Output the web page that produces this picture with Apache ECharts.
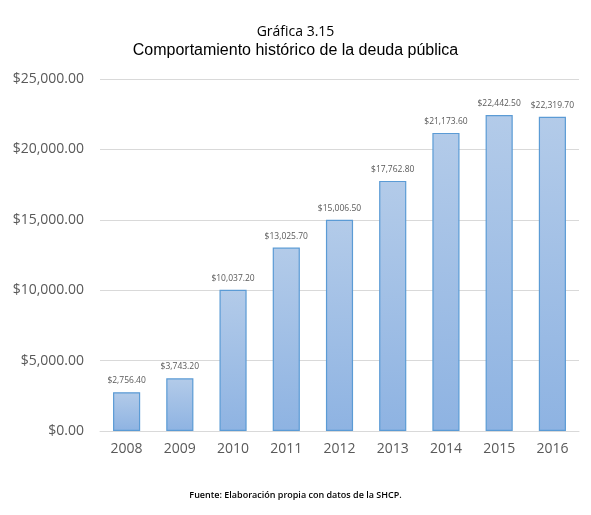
<!DOCTYPE html>
<html><head><meta charset="utf-8">
<script src="https://cdn.jsdelivr.net/npm/echarts@6/dist/echarts.min.js"></script>
<style>html,body{margin:0;padding:0;background:#fff}#c{width:591px;height:515px}</style>
</head><body><div id="c"></div>
<script>
const categories = ['2008','2009','2010','2011','2012','2013','2014','2015','2016'];
const values = [2756.4, 3743.2, 10037.2, 13025.7, 15006.5, 17762.8, 21173.6, 22442.5, 22319.7];
const yTicks = [0, 5000, 10000, 15000, 20000, 25000];

function money(v){
  return '$' + v.toLocaleString('en-US',{minimumFractionDigits:2,maximumFractionDigits:2});
}
const chart = echarts.init(document.getElementById('c'));
chart.setOption({
  animation:false,
  title:[
    {text:'Gráfica 3.15', left:'center', top:20, textStyle:{fontFamily:'Open Sans', fontSize:14, fontWeight:'normal', color:'#000'}},
    {text:'Comportamiento histórico de la deuda pública', left:'center', top:38, textStyle:{fontFamily:'Liberation Sans', fontSize:16, fontWeight:'normal', color:'#000'}},
    {text:'Fuente: Elaboración propia con datos de la SHCP.', left:'center', top:486, textStyle:{fontFamily:'Open Sans', fontSize:9, fontWeight:600, color:'#000'}}
  ],
  grid:{left:100, right:12, top:79, bottom:84},
  xAxis:{type:'category', data:categories,
    axisLine:{lineStyle:{color:'#d9d9d9', width:1}}, axisTick:{show:false},
    axisLabel:{color:'#595959', fontFamily:'Open Sans', fontSize:14, margin:11}},
  yAxis:{type:'value', min:yTicks[0], max:yTicks[yTicks.length-1], interval:5000,
    axisLine:{show:false}, axisTick:{show:false},
    splitLine:{lineStyle:{color:'#d9d9d9'}},
    axisLabel:{color:'#595959', fontFamily:'Open Sans', fontSize:14, margin:16, formatter:v=>money(v)}},
  series:[{type:'bar', data:values, barWidth:'51%',
    itemStyle:{color:new echarts.graphic.LinearGradient(0,0,0,1,[{offset:0,color:'#b3cbe9'},{offset:1,color:'#8eb3e2'}]),
      borderColor:'#5b9bd5', borderWidth:1.2},
    label:{show:true, position:'top', distance:7, color:'#595959', fontFamily:'Open Sans', fontSize:8.5, formatter:p=>money(p.value)}}]
});
</script></body></html>
